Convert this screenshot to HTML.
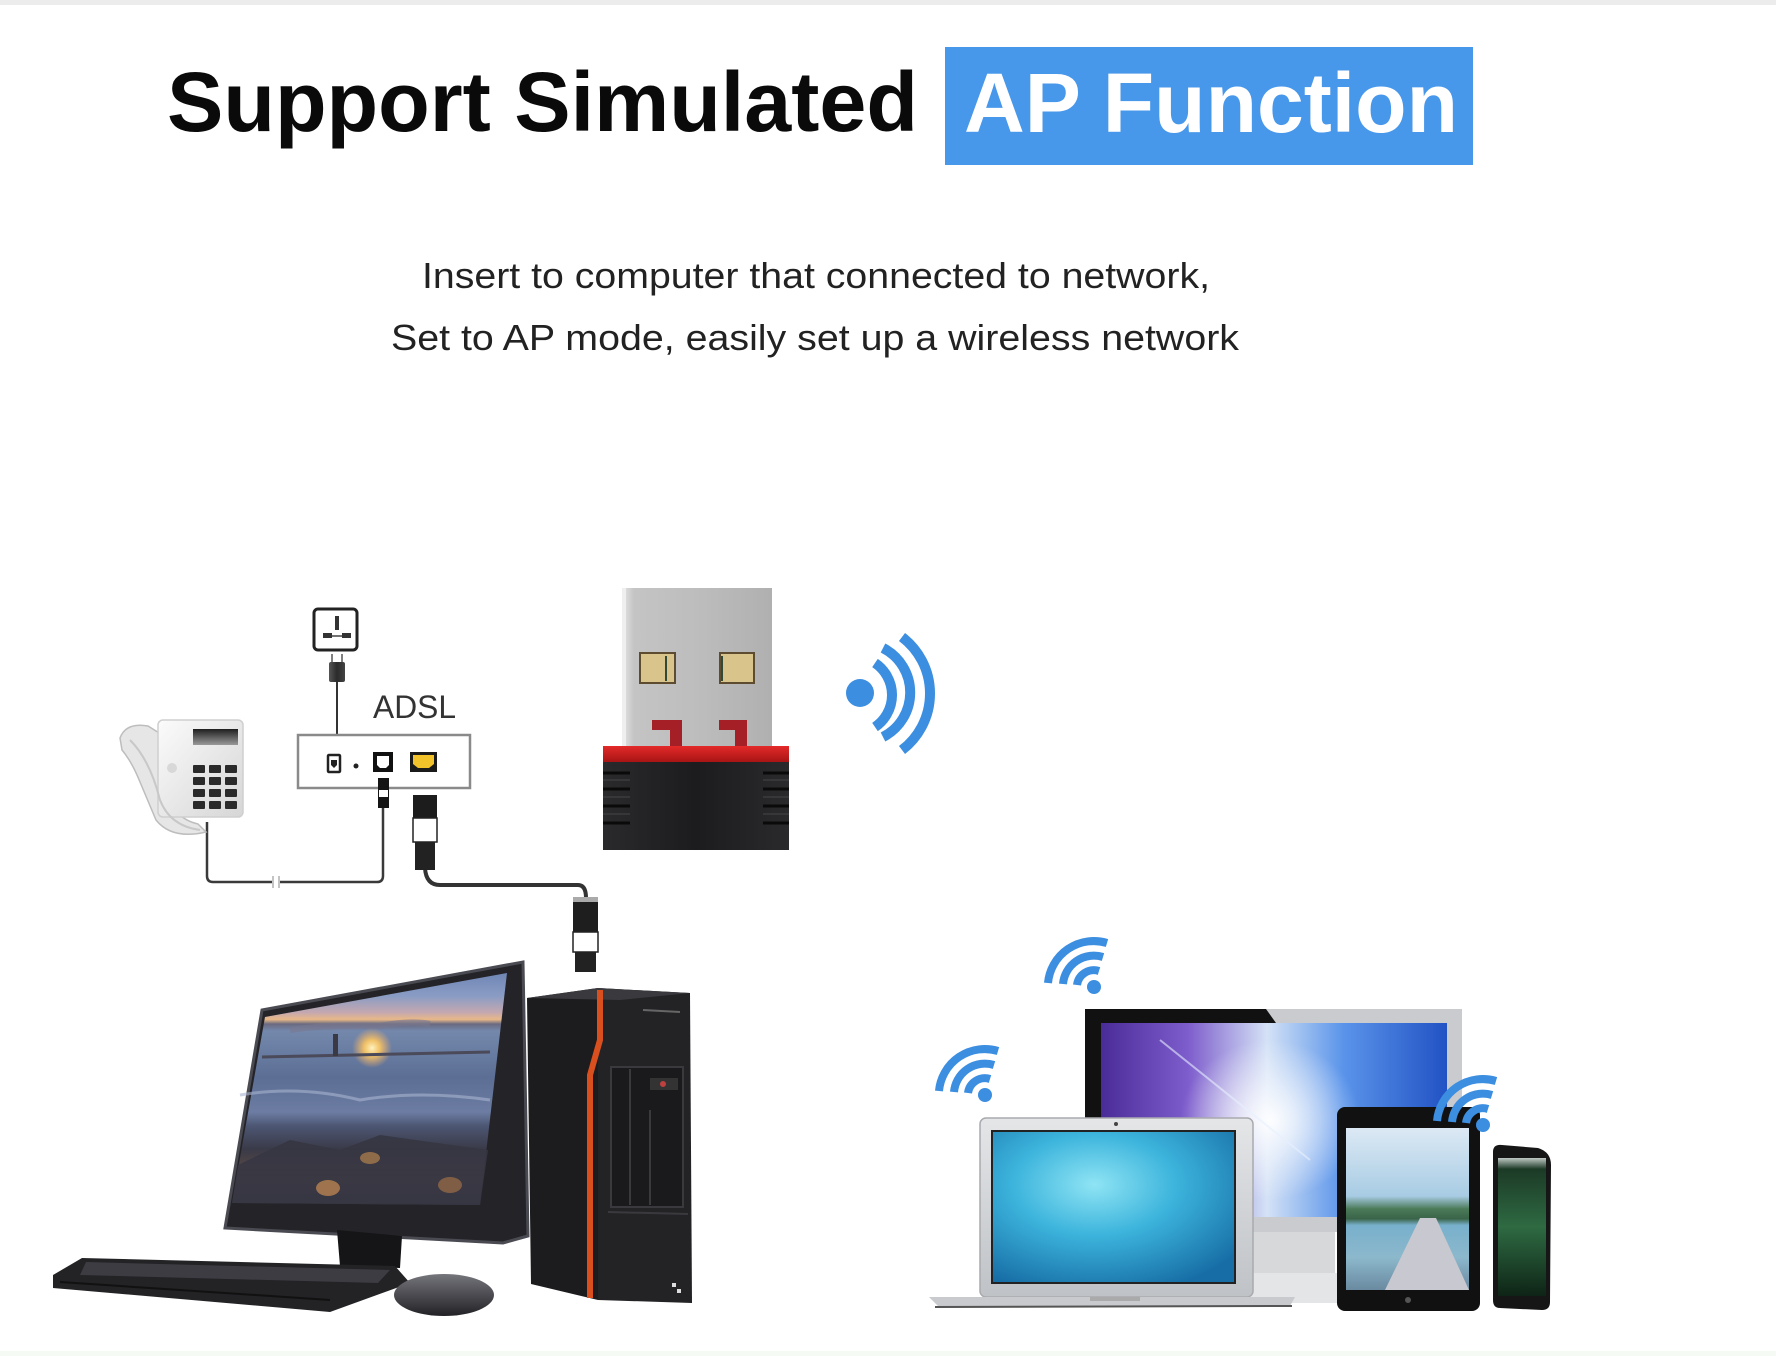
<!DOCTYPE html>
<html>
<head>
<meta charset="utf-8">
<style>
html,body{margin:0;padding:0;background:#fff;}
body{width:1776px;height:1356px;overflow:hidden;}
svg{display:block;}
</style>
</head>
<body>
<svg width="1776" height="1356" viewBox="0 0 1776 1356" xmlns="http://www.w3.org/2000/svg">
<defs>
  <linearGradient id="metal" x1="0" y1="0" x2="1" y2="0">
    <stop offset="0" stop-color="#e6e6e6"/>
    <stop offset="0.08" stop-color="#c4c4c4"/>
    <stop offset="0.5" stop-color="#bdbdbd"/>
    <stop offset="1" stop-color="#b0b0b0"/>
  </linearGradient>
  <linearGradient id="redband" x1="0" y1="0" x2="0" y2="1">
    <stop offset="0" stop-color="#e42a2a"/>
    <stop offset="1" stop-color="#a81414"/>
  </linearGradient>
  <linearGradient id="dbody" x1="0" y1="0" x2="1" y2="0">
    <stop offset="0" stop-color="#2a2a2c"/>
    <stop offset="0.5" stop-color="#1c1c1e"/>
    <stop offset="1" stop-color="#2a2a2c"/>
  </linearGradient>
  <linearGradient id="sunset" x1="0" y1="0" x2="0" y2="1">
    <stop offset="0" stop-color="#6f86b4"/>
    <stop offset="0.1" stop-color="#8a9cc4"/>
    <stop offset="0.17" stop-color="#c4a8b0"/>
    <stop offset="0.2" stop-color="#e8b888"/>
    <stop offset="0.22" stop-color="#6a6a80"/>
    <stop offset="0.25" stop-color="#7488ac"/>
    <stop offset="0.45" stop-color="#5c6e94"/>
    <stop offset="0.6" stop-color="#6c7ca2"/>
    <stop offset="0.66" stop-color="#4c5672"/>
    <stop offset="0.76" stop-color="#3a3a48"/>
    <stop offset="0.86" stop-color="#5a4a44"/>
    <stop offset="1" stop-color="#3a3a4a"/>
  </linearGradient>
  <radialGradient id="sun" cx="0.5" cy="0.5" r="0.5">
    <stop offset="0" stop-color="#fff2c0"/>
    <stop offset="0.4" stop-color="#ffc860" stop-opacity="0.9"/>
    <stop offset="1" stop-color="#ffb060" stop-opacity="0"/>
  </radialGradient>
  <linearGradient id="bigscr" x1="0" y1="0" x2="1" y2="0">
    <stop offset="0" stop-color="#4a2c98"/>
    <stop offset="0.25" stop-color="#7d5ccc"/>
    <stop offset="0.48" stop-color="#d4e2f6"/>
    <stop offset="0.7" stop-color="#5a94ea"/>
    <stop offset="1" stop-color="#2252c4"/>
  </linearGradient>
  <radialGradient id="glow" cx="0.5" cy="0.5" r="0.5">
    <stop offset="0" stop-color="#ffffff" stop-opacity="0.95"/>
    <stop offset="1" stop-color="#ffffff" stop-opacity="0"/>
  </radialGradient>
  <radialGradient id="lapscr" cx="0.42" cy="0.35" r="0.75">
    <stop offset="0" stop-color="#8fe4f4"/>
    <stop offset="0.45" stop-color="#3cb4dc"/>
    <stop offset="1" stop-color="#176ea6"/>
  </radialGradient>
  <linearGradient id="tabscr" x1="0" y1="0" x2="0" y2="1">
    <stop offset="0" stop-color="#dce9f4"/>
    <stop offset="0.42" stop-color="#a8cce4"/>
    <stop offset="0.5" stop-color="#4a7a58"/>
    <stop offset="0.56" stop-color="#3a6448"/>
    <stop offset="0.6" stop-color="#78b0cc"/>
    <stop offset="0.8" stop-color="#8cb8cc"/>
    <stop offset="1" stop-color="#6a8aa0"/>
  </linearGradient>
  <linearGradient id="phscr" x1="0" y1="0" x2="0" y2="1">
    <stop offset="0" stop-color="#bfc8c4"/>
    <stop offset="0.08" stop-color="#1c3a26"/>
    <stop offset="0.5" stop-color="#2e6a42"/>
    <stop offset="1" stop-color="#0e2416"/>
  </linearGradient>
  <linearGradient id="silver" x1="0" y1="0" x2="0" y2="1">
    <stop offset="0" stop-color="#e4e6e8"/>
    <stop offset="1" stop-color="#bfc2c6"/>
  </linearGradient>
  <linearGradient id="phone" x1="0" y1="0" x2="1" y2="1">
    <stop offset="0" stop-color="#fbfbfb"/>
    <stop offset="1" stop-color="#d6d6d6"/>
  </linearGradient>
  <linearGradient id="disp" x1="0" y1="0" x2="0" y2="1">
    <stop offset="0" stop-color="#1e1e1e"/>
    <stop offset="1" stop-color="#9a9a9a"/>
  </linearGradient>
  <linearGradient id="mouse" x1="0" y1="0" x2="0" y2="1">
    <stop offset="0" stop-color="#75757c"/>
    <stop offset="1" stop-color="#222226"/>
  </linearGradient>
  <linearGradient id="plug" x1="0" y1="0" x2="1" y2="0">
    <stop offset="0" stop-color="#555"/>
    <stop offset="0.5" stop-color="#2a2a2a"/>
    <stop offset="1" stop-color="#444"/>
  </linearGradient>
</defs>

<rect x="0" y="0" width="1776" height="1356" fill="#ffffff"/>
<rect x="0" y="0" width="1776" height="5" fill="#ececec"/>
<rect x="0" y="1351" width="1776" height="5" fill="#f5faf5"/>

<!-- Title -->
<text x="167" y="131" font-family="Liberation Sans, Arial, sans-serif" font-weight="bold" font-size="84" fill="#0a0a0a" textLength="751" lengthAdjust="spacingAndGlyphs">Support Simulated</text>
<rect x="945" y="47" width="528" height="118" fill="#4797ea"/>
<text x="964" y="132" font-family="Liberation Sans, Arial, sans-serif" font-weight="bold" font-size="84" fill="#ffffff" textLength="494" lengthAdjust="spacingAndGlyphs">AP Function</text>

<!-- Subtitle -->
<text x="422" y="288" font-family="Liberation Sans, Arial, sans-serif" font-size="36" fill="#222" textLength="788" lengthAdjust="spacingAndGlyphs">Insert to computer that connected to network,</text>
<text x="391" y="350" font-family="Liberation Sans, Arial, sans-serif" font-size="36" fill="#222" textLength="848" lengthAdjust="spacingAndGlyphs">Set to AP mode, easily set up a wireless network</text>

<!-- Outlet -->
<rect x="314" y="609" width="43" height="41" rx="4" fill="#fff" stroke="#222" stroke-width="3"/>
<line x1="337" y1="616" x2="337" y2="630" stroke="#333" stroke-width="4"/>
<line x1="325" y1="636" x2="350" y2="636" stroke="#444" stroke-width="1.5"/>
<rect x="323" y="633" width="9" height="5" fill="#333"/>
<rect x="342" y="633" width="9" height="5" fill="#333"/>
<!-- Plug -->
<line x1="332" y1="654" x2="332" y2="662" stroke="#555" stroke-width="1.5"/>
<line x1="342" y1="654" x2="342" y2="662" stroke="#555" stroke-width="1.5"/>
<rect x="329" y="662" width="16" height="20" rx="2" fill="url(#plug)"/>
<line x1="337" y1="682" x2="337" y2="755" stroke="#333" stroke-width="2"/>

<!-- ADSL -->
<text x="373" y="718" font-family="Liberation Sans, Arial, sans-serif" font-size="32" fill="#333" textLength="83" lengthAdjust="spacingAndGlyphs">ADSL</text>
<rect x="298" y="735" width="172" height="53" fill="#fff" stroke="#8a8a8a" stroke-width="2.5"/>
<rect x="328" y="755" width="12" height="17" rx="1" fill="#fff" stroke="#222" stroke-width="2.5"/>
<path d="M331 760 h6 v5 l-3 3 l-3 -3z" fill="#222"/>
<circle cx="356" cy="766" r="2.5" fill="#222"/>
<rect x="373" y="752" width="20" height="20" fill="#111"/>
<path d="M377 756 h12 v9 l-3 3 h-6 l-3 -3z" fill="#fff"/>
<rect x="410" y="752" width="27" height="20" fill="#1a1a1a"/>
<path d="M413 755 h21 v9 l-5 4 h-11 l-5 -4z" fill="#f2c22a"/>

<!-- Phone cable -->
<path d="M207 822 V876 Q207 882 213 882 H377 Q383 882 383 876 V806" fill="none" stroke="#3a3a3a" stroke-width="2.5"/>
<rect x="272" y="876" width="8" height="12" fill="#fff"/>
<line x1="273" y1="876" x2="273" y2="888" stroke="#888" stroke-width="1"/>
<line x1="279" y1="876" x2="279" y2="888" stroke="#888" stroke-width="1"/>
<rect x="378" y="778" width="11" height="30" fill="#151515"/>
<rect x="379" y="790" width="9" height="7" fill="#fff"/>

<!-- Telephone -->
<path d="M120 738 Q126 722 148 726 L164 736 L168 790 Q172 818 198 824 L206 832 Q172 840 156 820 L140 782 Q132 762 122 750 Z" fill="#e6e6e6" stroke="#bdbdbd" stroke-width="1.5"/>
<rect x="158" y="720" width="85" height="97" rx="5" fill="url(#phone)" stroke="#cfcfcf" stroke-width="1.5"/>
<path d="M130 740 Q150 760 160 800 Q170 826 200 830" fill="none" stroke="#c8c8c8" stroke-width="2"/>
<rect x="193" y="729" width="45" height="16" fill="url(#disp)"/>
<g fill="#2a2a2a">
  <rect x="193" y="765" width="12" height="8" rx="1"/><rect x="209" y="765" width="12" height="8" rx="1"/><rect x="225" y="765" width="12" height="8" rx="1"/>
  <rect x="193" y="777" width="12" height="8" rx="1"/><rect x="209" y="777" width="12" height="8" rx="1"/><rect x="225" y="777" width="12" height="8" rx="1"/>
  <rect x="193" y="789" width="12" height="8" rx="1"/><rect x="209" y="789" width="12" height="8" rx="1"/><rect x="225" y="789" width="12" height="8" rx="1"/>
  <rect x="193" y="801" width="12" height="8" rx="1"/><rect x="209" y="801" width="12" height="8" rx="1"/><rect x="225" y="801" width="12" height="8" rx="1"/>
</g>
<circle cx="172" cy="768" r="5" fill="#d8d8d8"/>

<!-- Ethernet connector 1 + cable -->
<path d="M425 868 Q426 885 440 885 H578 Q586 885 586 898" fill="none" stroke="#333" stroke-width="4"/>
<rect x="413" y="795" width="24" height="23" fill="#1c1c1c"/>
<rect x="413" y="818" width="24" height="24" fill="#fff" stroke="#222" stroke-width="1.5"/>
<rect x="415" y="842" width="20" height="28" fill="#222"/>
<!-- Ethernet connector 2 -->
<rect x="573" y="897" width="25" height="35" fill="#1e1e1e"/>
<rect x="573" y="897" width="25" height="5" fill="#aaa"/>
<rect x="573" y="932" width="25" height="20" fill="#fff" stroke="#222" stroke-width="1.5"/>
<rect x="575" y="952" width="21" height="20" fill="#222"/>

<!-- USB dongle -->
<rect x="622" y="588" width="150" height="160" fill="url(#metal)"/>
<rect x="622" y="588" width="4" height="160" fill="#efefef"/>
<rect x="640" y="653" width="35" height="30" fill="#d9c48c" stroke="#5e4c30" stroke-width="2"/>
<line x1="666" y1="656" x2="666" y2="681" stroke="#2f4a36" stroke-width="2"/>
<rect x="720" y="653" width="34" height="30" fill="#d9c48c" stroke="#5e4c30" stroke-width="2"/>
<line x1="722" y1="656" x2="722" y2="681" stroke="#2f4a36" stroke-width="2"/>
<path d="M652 720 h30 v26 h-12 v-16 h-18z" fill="#a42026"/>
<path d="M719 720 h28 v26 h-12 v-16 h-16z" fill="#a42026"/>
<rect x="603" y="746" width="186" height="16" fill="url(#redband)"/>
<rect x="603" y="762" width="186" height="88" fill="url(#dbody)"/>
<g stroke="#0a0a0a" stroke-width="3">
  <line x1="603" y1="773" x2="630" y2="773"/><line x1="603" y1="789" x2="630" y2="789"/><line x1="603" y1="806" x2="630" y2="806"/><line x1="603" y1="823" x2="630" y2="823"/>
  <line x1="763" y1="773" x2="789" y2="773"/><line x1="763" y1="789" x2="789" y2="789"/><line x1="763" y1="806" x2="789" y2="806"/><line x1="763" y1="823" x2="789" y2="823"/>
</g>
<g stroke="#3c3c3e" stroke-width="1.5">
  <line x1="603" y1="780" x2="630" y2="780"/><line x1="603" y1="797" x2="630" y2="797"/><line x1="603" y1="814" x2="630" y2="814"/>
  <line x1="763" y1="780" x2="789" y2="780"/><line x1="763" y1="797" x2="789" y2="797"/><line x1="763" y1="814" x2="789" y2="814"/>
</g>

<!-- Signal -->
<circle cx="860" cy="693" r="14" fill="#3c8ee0"/>
<g fill="none" stroke="#3c8ee0" stroke-width="10">
  <path d="M875 663 A38.6 38.6 0 0 1 875 727"/>
  <path d="M883 648 A50 50 0 0 1 883 737"/>
  <path d="M902 637 A71 71 0 0 1 902 750"/>
</g>

<!-- Desktop computer -->
<!-- tower -->
<polygon points="527,998 598,988 598,1300 531,1284" fill="#1c1c1e"/>
<polygon points="598,988 690,993 692,1303 598,1300" fill="#232326"/>
<polygon points="527,998 598,988 690,993 620,1000" fill="#3a3a3e"/>
<path d="M600 990 L600 1040 L590 1075 L590 1298" fill="none" stroke="#d9501e" stroke-width="6"/>
<line x1="643" y1="1010" x2="680" y2="1012" stroke="#666" stroke-width="2"/>
<rect x="611" y="1067" width="72" height="140" fill="#1a1a1c" stroke="#3a3a3e" stroke-width="2"/>
<line x1="630" y1="1069" x2="630" y2="1205" stroke="#3a3a3e" stroke-width="2"/>
<line x1="650" y1="1110" x2="650" y2="1205" stroke="#3a3a3e" stroke-width="2"/>
<rect x="650" y="1078" width="28" height="12" fill="#333"/>
<circle cx="663" cy="1084" r="3" fill="#c04040"/>
<line x1="608" y1="1212" x2="688" y2="1214" stroke="#3a3a3e" stroke-width="2"/>
<rect x="672" y="1283" width="4" height="4" fill="#ddd"/><rect x="677" y="1289" width="4" height="4" fill="#ddd"/>
<!-- monitor -->
<polygon points="262,1010 523,962 528,1236 503,1243 225,1228" fill="#242428" stroke="#4a4a52" stroke-width="3"/>
<polygon points="265,1017 507,973 480,1205 232,1203" fill="url(#sunset)"/>
<path d="M290 1030 Q330 1024 380 1026 Q410 1020 430 1024" fill="none" stroke="#7a7890" stroke-width="6" opacity="0.6"/>
<circle cx="372" cy="1048" r="20" fill="url(#sun)"/>
<line x1="262" y1="1057" x2="490" y2="1052" stroke="#4a4a5a" stroke-width="3"/>
<rect x="333" y="1034" width="5" height="22" fill="#3a3a44"/>
<path d="M240 1095 Q300 1085 360 1100 Q420 1090 490 1100" fill="none" stroke="#a8b4d0" stroke-width="3" opacity="0.6"/>
<polygon points="238,1165 290,1140 340,1150 380,1135 430,1142 488,1150 480,1205 232,1203" fill="#363642" opacity="0.9"/>
<ellipse cx="328" cy="1188" rx="12" ry="8" fill="#c08850" opacity="0.75"/>
<ellipse cx="370" cy="1158" rx="10" ry="6" fill="#c89050" opacity="0.6"/>
<ellipse cx="450" cy="1185" rx="12" ry="8" fill="#b07848" opacity="0.6"/>
<polygon points="337,1230 402,1236 400,1268 340,1266" fill="#151517"/>
<!-- keyboard -->
<polygon points="53,1275 82,1258 395,1266 410,1283 330,1312 53,1288" fill="#232326"/>
<polygon points="86,1262 390,1270 378,1283 80,1275" fill="#3c3c42"/>
<line x1="60" y1="1282" x2="330" y2="1300" stroke="#111" stroke-width="2"/>
<!-- mouse -->
<ellipse cx="444" cy="1295" rx="50" ry="21" fill="url(#mouse)"/>

<!-- Right-side devices -->
<!-- big monitor -->
<rect x="1085" y="1009" width="377" height="223" fill="#c9cbce"/>
<polygon points="1085,1009 1266,1009 1276,1023 1101,1023 1101,1232 1085,1232" fill="#111"/>
<rect x="1101" y="1023" width="346" height="194" fill="url(#bigscr)"/>
<ellipse cx="1270" cy="1120" rx="90" ry="80" fill="url(#glow)"/>
<line x1="1160" y1="1040" x2="1310" y2="1160" stroke="#e8f0ff" stroke-width="2" opacity="0.6"/>
<rect x="1253" y="1232" width="82" height="41" fill="#d6d8da"/>
<rect x="1240" y="1273" width="105" height="30" fill="#e4e5e6"/>
<!-- laptop -->
<rect x="980" y="1118" width="273" height="179" rx="6" fill="url(#silver)" stroke="#a8aaae" stroke-width="1.5"/>
<rect x="991" y="1130" width="245" height="154" fill="#222"/>
<rect x="993" y="1132" width="241" height="150" fill="url(#lapscr)"/>
<circle cx="1116" cy="1124" r="2" fill="#444"/>
<polygon points="929,1297 1295,1297 1290,1306 940,1308" fill="#c8cacd"/>
<line x1="935" y1="1307" x2="1292" y2="1306" stroke="#555" stroke-width="2"/>
<rect x="1090" y="1297" width="50" height="4" fill="#aaa"/>
<!-- tablet -->
<rect x="1337" y="1107" width="143" height="204" rx="8" fill="#111"/>
<rect x="1346" y="1128" width="123" height="162" fill="url(#tabscr)"/>
<polygon points="1420,1218 1436,1218 1469,1290 1385,1290" fill="#c8c8d0"/>
<circle cx="1408" cy="1300" r="3" fill="#555"/>
<!-- phone -->
<path d="M1493 1152 Q1493 1144 1502 1145 L1538 1148 Q1551 1152 1551 1165 L1550 1302 Q1550 1310 1542 1310 L1500 1308 Q1493 1308 1493 1300 Z" fill="#161616"/>
<rect x="1498" y="1158" width="48" height="138" fill="url(#phscr)"/>

<!-- Wifi icons -->
<g fill="none" stroke="#3c8ee0" stroke-width="8">
  <g transform="translate(1094,987)">
    <path d="M-46 -4 A46 46 0 0 1 13 -44"/>
    <path d="M-31 -3 A31 31 0 0 1 9 -30"/>
    <path d="M-17 -2 A17 17 0 0 1 5 -16"/>
  </g>
  <g transform="translate(985,1095)">
    <path d="M-46 -4 A46 46 0 0 1 13 -44"/>
    <path d="M-31 -3 A31 31 0 0 1 9 -30"/>
    <path d="M-17 -2 A17 17 0 0 1 5 -16"/>
  </g>
  <g transform="translate(1483,1125)">
    <path d="M-46 -4 A46 46 0 0 1 13 -44"/>
    <path d="M-31 -3 A31 31 0 0 1 9 -30"/>
    <path d="M-17 -2 A17 17 0 0 1 5 -16"/>
  </g>
</g>
<circle cx="1094" cy="987" r="7" fill="#3c8ee0"/>
<circle cx="985" cy="1095" r="7" fill="#3c8ee0"/>
<circle cx="1483" cy="1125" r="7" fill="#3c8ee0"/>
</svg>
</body>
</html>
